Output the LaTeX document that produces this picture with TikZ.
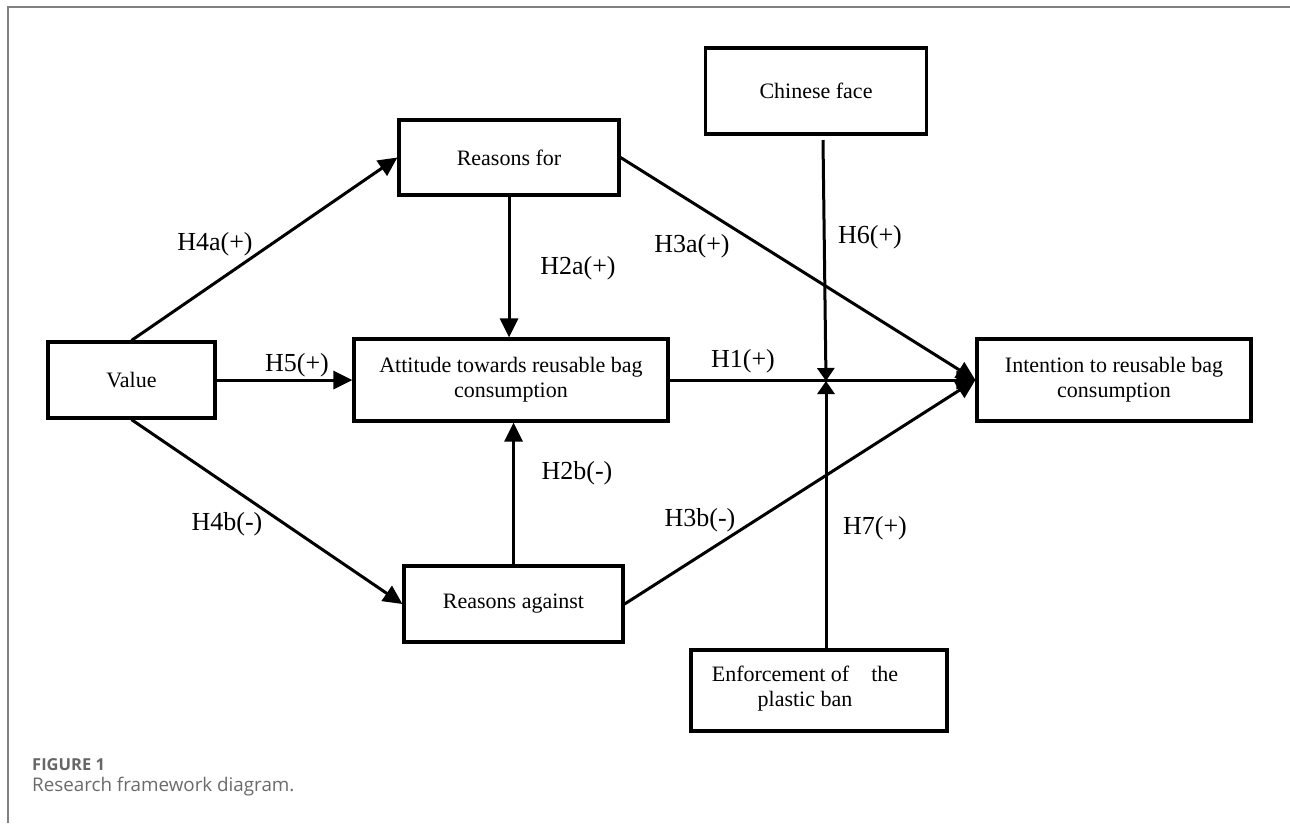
\documentclass[tikz,border=0pt]{standalone}
\usepackage{fontspec}
\setmainfont{Liberation Serif}
\newfontfamily\capfont{Open Sans}
\usetikzlibrary{arrows.meta,calc}
\begin{document}
\begin{tikzpicture}[x=1pt,y=-1pt,
  box/.style={draw=black,line width=3.2pt,fill=white,inner sep=0pt,align=center,
    font=\fontsize{22}{25}\selectfont},
  txt/.style={inner sep=0pt,align=center,font=\fontsize{22}{25}\selectfont},
  hlab/.style={inner sep=0pt,font=\fontsize{26}{28}\selectfont},
  arr/.style={line width=3pt,-{Triangle[length=19pt,width=18pt]}},
  modarr/.style={line width=3pt,-{Triangle[length=13pt,width=17pt]}},
  frame/.style={draw=black!50,line width=1.6pt}
]
\useasboundingbox (0,0) rectangle (1290,823);
\fill[white] (0,0) rectangle (1290,823);
\draw[frame] (8,823) -- (8,7) -- (1290,7);

% boxes
\node[box,minimum width=167pt,minimum height=76pt] (value) at (131.5,380) {Value};
\node[box,minimum width=220pt,minimum height=75pt] (rfor) at (509,157.5) {Reasons for};
\node[box,minimum width=314pt,minimum height=82pt] (att) at (511,380) {Attitude towards reusable bag\\consumption};
\node[box,minimum width=219pt,minimum height=76pt] (rag) at (513.5,604) {Reasons against};
\node[box,minimum width=221pt,minimum height=86pt] (face) at (816,91) {Chinese face};
\node[box,minimum width=274pt,minimum height=82pt] (int) at (1114,380) {Intention to reusable bag\\consumption};
\node[box,minimum width=256pt,minimum height=81pt] (enf) at (819,690.5) {};
\node[txt] (enftxt) at (805,689) {Enforcement of\hspace{22pt}the\\plastic ban};

% connectors
\draw[arr] (value.north) -- (rfor.west);
\draw[arr] (value.south) -- (rag.west);
\draw[arr] (value.east) -- (att.west);
\draw[arr] (rfor.south) -- (rfor.south |- att.north);
\draw[arr] (rag.north) -- (rag.north |- att.south);
\draw[arr] (rfor.east) -- (int.west);
\draw[arr] (rag.east) -- (int.west);
\draw[arr] (att.east) -- (int.west);

\coordinate (h6s) at (823,140);
\coordinate (mod) at (826,381);
\draw[modarr] (h6s) -- (mod);
\draw[modarr] (enf.north -| mod) -- (mod);

% labels
\node[hlab] (l4a) at (215,244) {H4a(+)};
\node[hlab] (l2a) at (578,268) {H2a(+)};
\node[hlab] (l3a) at (692,246) {H3a(+)};
\node[hlab] (l6) at (870,237) {H6(+)};
\node[hlab] (l5) at (297,365) {H5(+)};
\node[hlab] (l1) at (743,361) {H1(+)};
\node[hlab] (l4b) at (227,524) {H4b(-)};
\node[hlab] (l2b) at (577,473) {H2b(-)};
\node[hlab] (l3b) at (700,520) {H3b(-)};
\node[hlab] (l7) at (875,528) {H7(+)};

% caption
\node[anchor=west,inner sep=0pt,text=black!60,font=\capfont\bfseries\fontsize{16.5}{18}\selectfont] (fig) at (32,765) {FIGURE 1};
\node[anchor=west,inner sep=0pt,text=black!58,font=\capfont\fontsize{18.8}{22}\selectfont] (cap) at (32,787) {Research framework diagram.};
\end{tikzpicture}
\end{document}
